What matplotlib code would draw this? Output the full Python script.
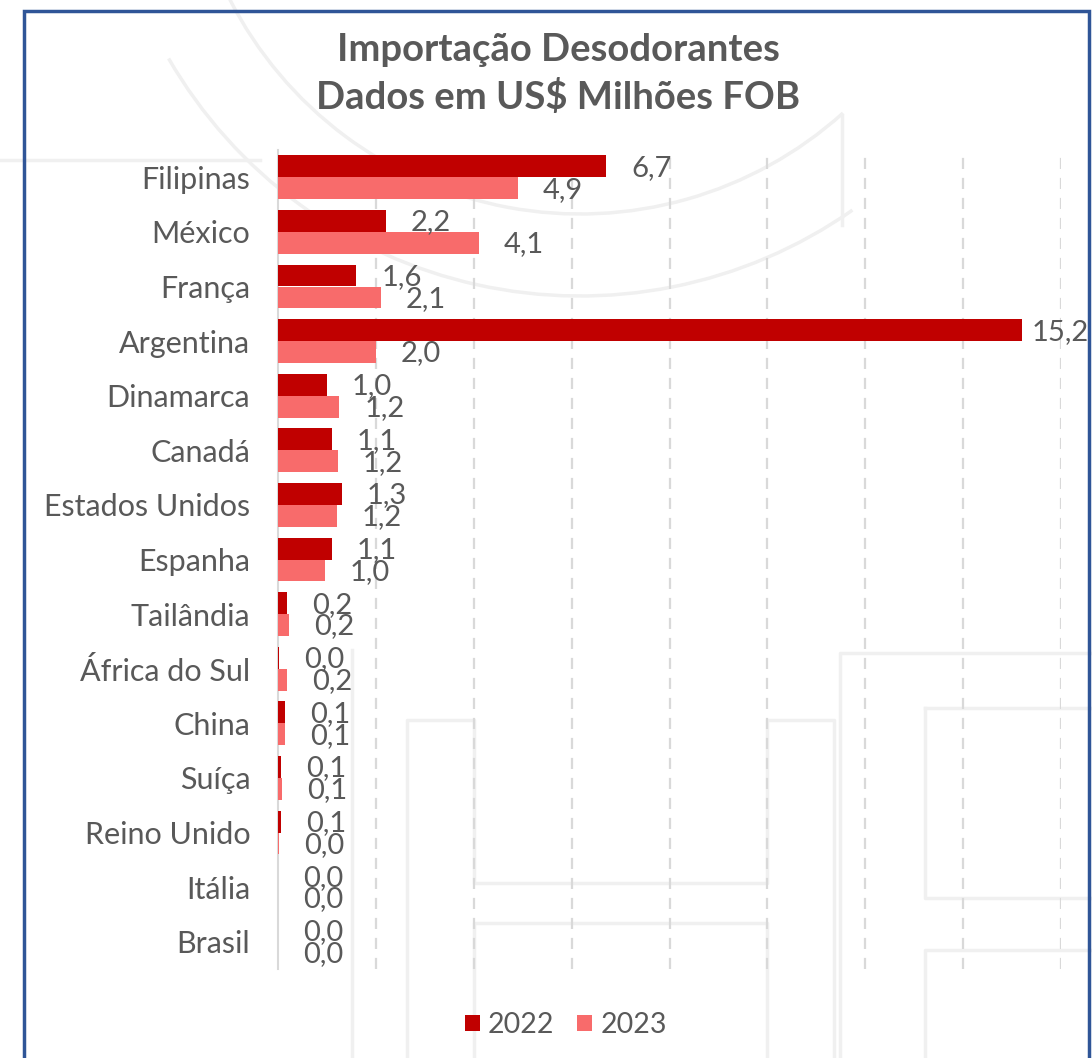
import matplotlib
matplotlib.use("Agg")
import matplotlib.pyplot as plt
from matplotlib.patches import Rectangle, Arc, Patch
import numpy as np

categories = ["Filipinas", "México", "França", "Argentina", "Dinamarca", "Canadá",
              "Estados Unidos", "Espanha", "Tailândia", "África do Sul", "China",
              "Suíça", "Reino Unido", "Itália", "Brasil"]
values_2022 = [6.7, 2.2, 1.6, 15.2, 1.0, 1.1, 1.3, 1.1, 0.18, 0.02, 0.14, 0.07, 0.06, 0.01, 0.005]
values_2023 = [4.9, 4.1, 2.1, 2.0, 1.25, 1.22, 1.2, 0.96, 0.22, 0.18, 0.14, 0.08, 0.03, 0.01, 0.01]
series_names = ["2022", "2023"]
title = "Importação Desodorantes\nDados em US$ Milhões FOB"

C22 = "#C00000"
C23 = "#F86B6B"
TXT = "#595959"
FONT = ["Lato", "DejaVu Sans"]

W, H = 1092, 1058
fig = plt.figure(figsize=(W / 100, H / 100), dpi=100)
fig.patch.set_facecolor("white")

def px(x, y):
    return (x / W, 1 - y / H)

# --- faint watermark (background logo) ---
wm = "#F0F0F0"
wl = 2.5
bg = fig.add_axes([0, 0, 1, 1], zorder=-5)
bg.set_xlim(0, W); bg.set_ylim(H, 0); bg.axis("off")
bg.add_patch(Arc((580, -179), 2 * 393, 2 * 393, theta1=48, theta2=153, color=wm, lw=wl))
bg.add_patch(Arc((580, -179), 2 * 475, 2 * 475, theta1=55, theta2=150, color=wm, lw=wl))
bg.plot([842, 842], [115, 225], color=wm, lw=wl)
# H outline
bg.plot([407, 407, 474, 474, 767, 767, 834, 834],
        [H + 5, 720, 720, 883, 883, 720, 720, H + 5], color=wm, lw=wl)
bg.plot([474, 474, 767, 767], [H + 5, 923, 923, H + 5], color=wm, lw=wl)
bg.plot([352, 352], [H + 5, 650], color=wm, lw=wl)
# P outline
bg.plot([840, 840, 1100], [H + 5, 653, 653], color=wm, lw=wl)
bg.plot([925, 925, 1100], [708, 898, 898], color=wm, lw=wl)
bg.plot([925, 1100], [708, 708], color=wm, lw=wl)
bg.plot([925, 925, 1100], [H + 5, 950, 950], color=wm, lw=wl)
bg.plot([0, 260], [160, 160], color=wm, lw=wl)

# --- main axes ---
ax = fig.add_axes([278 / W, 1 - 969 / H, (1061 - 278) / W, (969 - 150) / H])
ax.set_facecolor("none")
y = np.arange(len(categories))
h = 0.4
b1 = ax.barh(y - h / 2, values_2022, height=h, color=C22, label=series_names[0], zorder=3)
b2 = ax.barh(y + h / 2, values_2023, height=h, color=C23, label=series_names[1], zorder=3)
ax.set_xlim(0, 16)
ax.set_ylim(len(categories) - 0.5, -0.5)
ax.set_xticks(np.arange(2, 17, 2))
ax.tick_params(axis="x", length=0, labelbottom=False)
ax.tick_params(axis="y", length=0, pad=20)
ax.set_yticks(y)
ax.set_yticklabels(categories, fontsize=22, color=TXT, family=FONT)
ax.grid(axis="x", color="#D9D9D9", lw=1.6, ls=(0, (5, 4)), zorder=0)
for s in ["top", "right", "bottom"]:
    ax.spines[s].set_visible(False)
ax.spines["left"].set_color("#D9D9D9")
ax.spines["left"].set_linewidth(1.5)

def fmt(v):
    return f"{v:.1f}".replace(".", ",")

xmax = ax.get_xlim()[1]
for bars, vals in ((b1, values_2022), (b2, values_2023)):
    for rect, v in zip(bars, vals):
        yc = rect.get_y() + rect.get_height() / 2
        off = 18 if v < xmax * 0.85 else 7
        ax.annotate(fmt(v), (v, yc), xytext=(off, -1), textcoords="offset points",
                    ha="left", va="center", fontsize=21, color=TXT, family=FONT,
                    zorder=4, annotation_clip=False)

fig.text(558 / W, 1 - 74 / H, title, ha="center", va="center", fontsize=27.5,
         fontweight="bold", color=TXT, family=FONT, linespacing=1.38)

handles = [Patch(facecolor=C22), Patch(facecolor=C23)]
fig.legend(handles, series_names, loc="center", bbox_to_anchor=(566 / W, 1 - 1025 / H),
           ncol=2, frameon=False, handlelength=0.5, handleheight=0.5, handletextpad=0.3,
           columnspacing=0.8, prop={"family": FONT, "size": 20.5}, labelcolor=TXT)

# outer blue border
fig.add_artist(Rectangle(px(24, H + 20), (1089 - 24) / W, (H + 20 - 11) / H,
                         transform=fig.transFigure, fill=False, edgecolor="#2F5597", lw=2.5,
                         clip_on=False))

fig.savefig("out.png", dpi=100)
